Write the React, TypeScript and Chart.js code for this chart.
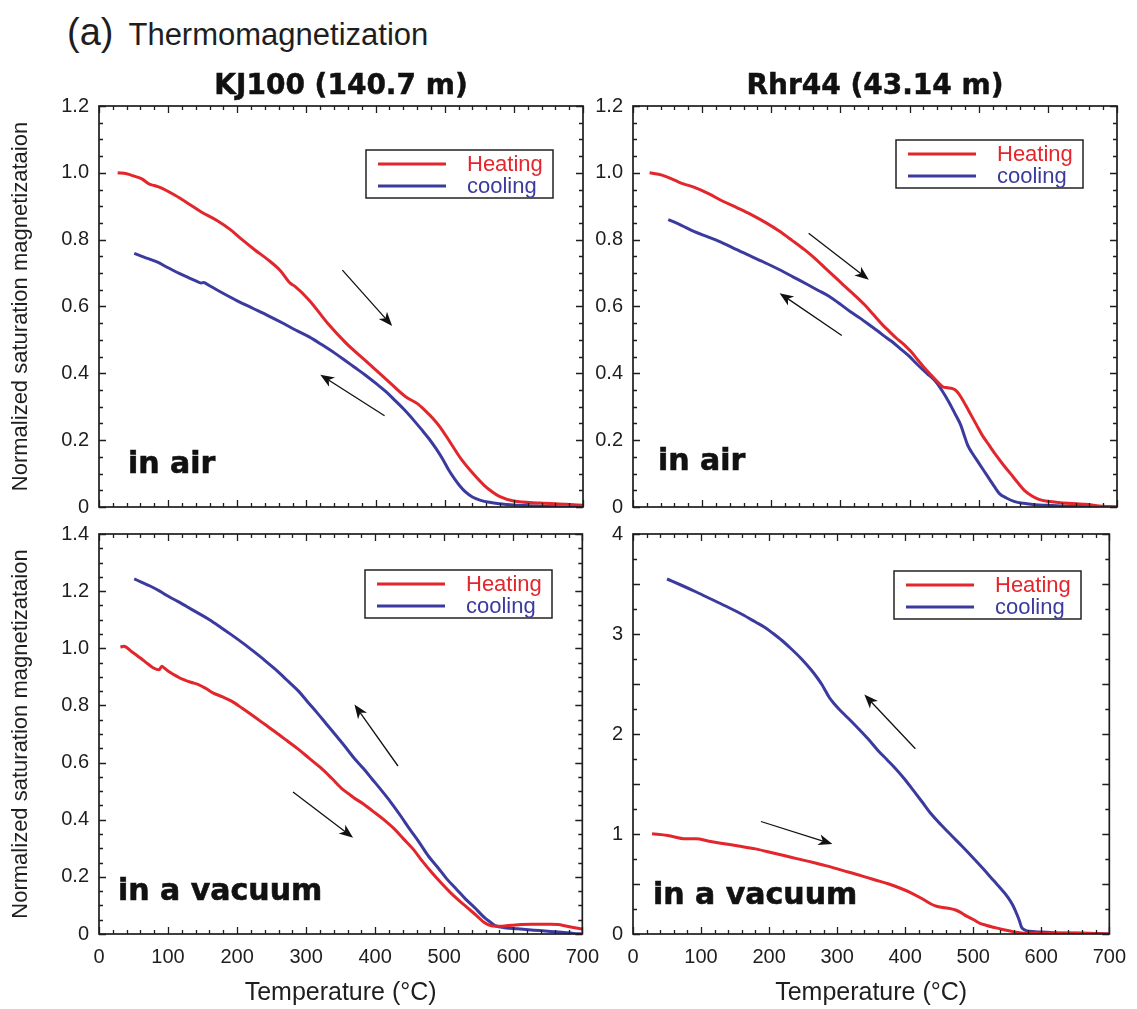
import React, { useEffect, useRef } from "react";
import { Chart, registerables } from "chart.js";

Chart.register(...registerables);

const RED = "#e2262b";
const BLUE = "#3b3b9f";
const INK = "#1e1e1e";

// ---------- data: KJ100 (140.7 m), in air ----------
const kjAirHeatT = [27, 40, 51, 62, 73, 80, 89, 110, 130, 148, 170, 190, 207, 225, 245, 262, 277, 283, 304, 331, 358, 385, 417, 444, 460, 471, 483, 493, 509, 525, 541, 557, 569, 579, 600, 638, 676, 700];
const kjAirHeatM = [1.0, 0.997, 0.99, 0.982, 0.966, 0.962, 0.956, 0.933, 0.907, 0.883, 0.858, 0.83, 0.8, 0.77, 0.739, 0.708, 0.669, 0.661, 0.619, 0.549, 0.489, 0.439, 0.379, 0.329, 0.31, 0.29, 0.265, 0.24, 0.19, 0.14, 0.1, 0.065, 0.045, 0.032, 0.018, 0.012, 0.008, 0.005];
const kjAirCoolT = [51, 65, 83, 100, 116, 130, 143, 148, 151, 160, 180, 200, 223, 245, 267, 285, 304, 322, 342, 355, 369, 385, 401, 415, 428, 442, 455, 466, 477, 488, 498, 506, 514, 522, 530, 540, 552, 565, 579, 600, 622, 665, 700];
const kjAirCoolM = [0.759, 0.748, 0.734, 0.716, 0.699, 0.686, 0.674, 0.67, 0.672, 0.662, 0.639, 0.617, 0.594, 0.572, 0.549, 0.529, 0.509, 0.486, 0.459, 0.44, 0.419, 0.395, 0.369, 0.345, 0.319, 0.29, 0.26, 0.233, 0.205, 0.173, 0.14, 0.11, 0.085, 0.063, 0.045, 0.03, 0.02, 0.014, 0.01, 0.006, 0.004, 0.001, 0.0];

// ---------- data: Rhr44 (43.14 m), in air ----------
const rhAirHeatT = [24, 42, 60, 73, 88, 110, 130, 150, 171, 192, 212, 230, 248, 263, 278, 291, 304, 320, 335, 348, 361, 371, 381, 392, 402, 412, 422, 430, 438, 448, 455, 461, 468, 474, 481, 489, 497, 505, 515, 525, 536, 546, 556, 566, 577, 587, 600, 618, 654, 679, 700];
const rhAirHeatM = [1.0, 0.993, 0.978, 0.967, 0.957, 0.937, 0.915, 0.896, 0.875, 0.851, 0.825, 0.798, 0.77, 0.744, 0.715, 0.69, 0.665, 0.635, 0.605, 0.575, 0.545, 0.525, 0.505, 0.486, 0.465, 0.44, 0.415, 0.397, 0.38, 0.36, 0.357, 0.355, 0.347, 0.33, 0.305, 0.275, 0.245, 0.215, 0.185, 0.155, 0.125, 0.1, 0.074, 0.05, 0.033, 0.023, 0.017, 0.013, 0.008, 0.002, 0.0];
const rhAirCoolT = [51, 70, 88, 110, 130, 150, 171, 192, 212, 232, 253, 268, 284, 299, 314, 330, 345, 355, 361, 374, 386, 399, 412, 425, 438, 448, 458, 466, 474, 479, 484, 491, 499, 507, 515, 523, 530, 540, 551, 565, 582, 600, 618, 660, 700];
const rhAirCoolM = [0.86, 0.843, 0.825, 0.807, 0.79, 0.77, 0.75, 0.73, 0.71, 0.688, 0.665, 0.648, 0.63, 0.608, 0.585, 0.563, 0.54, 0.525, 0.515, 0.496, 0.475, 0.452, 0.425, 0.4, 0.375, 0.345, 0.31, 0.278, 0.245, 0.215, 0.185, 0.16, 0.135, 0.11, 0.085, 0.06, 0.04, 0.027, 0.017, 0.011, 0.007, 0.005, 0.003, 0.001, 0.0];

// ---------- data: KJ100 (140.7 m), in a vacuum ----------
const kjVacHeatT = [31, 36, 47, 55, 63, 71, 79, 87, 91, 95, 101, 109, 117, 125, 133, 144, 155, 165, 179, 192, 208, 224, 240, 256, 272, 289, 305, 321, 337, 353, 362, 369, 383, 396, 412, 428, 441, 455, 468, 482, 495, 509, 522, 536, 548, 558, 566, 574, 582, 590, 600, 611, 627, 644, 655, 665, 676, 687, 700];
const kjVacHeatM = [1.004, 1.007, 0.989, 0.975, 0.96, 0.945, 0.931, 0.925, 0.937, 0.93, 0.919, 0.907, 0.896, 0.888, 0.881, 0.873, 0.859, 0.844, 0.83, 0.815, 0.789, 0.762, 0.734, 0.706, 0.677, 0.646, 0.614, 0.582, 0.545, 0.506, 0.49, 0.477, 0.455, 0.431, 0.401, 0.367, 0.333, 0.297, 0.256, 0.215, 0.18, 0.145, 0.116, 0.087, 0.062, 0.04, 0.03, 0.027, 0.027, 0.029, 0.031, 0.033, 0.034, 0.034, 0.034, 0.033, 0.028, 0.023, 0.017];
const kjVacCoolT = [51, 62, 74, 88, 101, 114, 127, 143, 160, 176, 192, 208, 224, 240, 256, 272, 289, 302, 316, 329, 342, 356, 369, 383, 396, 410, 423, 437, 450, 464, 477, 491, 504, 518, 531, 545, 558, 566, 574, 582, 590, 606, 622, 638, 654, 670, 687, 700];
const kjVacCoolM = [1.243, 1.231, 1.218, 1.2, 1.181, 1.164, 1.146, 1.124, 1.1, 1.074, 1.047, 1.019, 0.989, 0.958, 0.925, 0.889, 0.85, 0.813, 0.774, 0.736, 0.698, 0.657, 0.617, 0.579, 0.541, 0.5, 0.46, 0.413, 0.367, 0.32, 0.273, 0.232, 0.192, 0.156, 0.122, 0.09, 0.058, 0.043, 0.029, 0.024, 0.021, 0.018, 0.015, 0.012, 0.009, 0.006, 0.002, 0.0];

// ---------- data: Rhr44 (43.14 m), in a vacuum ----------
const rhVacHeatT = [28, 51, 77, 93, 110, 129, 155, 180, 206, 232, 258, 283, 309, 335, 355, 376, 392, 407, 423, 438, 446, 453, 463, 474, 482, 489, 500, 510, 520, 530, 543, 556, 566, 576, 600, 618, 669, 700];
const rhVacHeatM = [1.002, 0.985, 0.952, 0.952, 0.93, 0.908, 0.88, 0.851, 0.81, 0.768, 0.726, 0.684, 0.634, 0.584, 0.542, 0.5, 0.46, 0.417, 0.36, 0.3, 0.278, 0.267, 0.258, 0.24, 0.214, 0.184, 0.145, 0.107, 0.085, 0.067, 0.045, 0.027, 0.015, 0.007, 0.007, 0.007, 0.005, 0.0];
const rhVacCoolT = [50, 72, 93, 116, 139, 160, 180, 194, 206, 219, 232, 247, 262, 271, 278, 283, 288, 296, 304, 316, 329, 345, 360, 373, 386, 399, 412, 425, 438, 453, 468, 484, 499, 515, 530, 541, 551, 558, 564, 568, 571, 576, 582, 600, 618, 645, 669, 700];
const rhVacCoolM = [3.55, 3.485, 3.42, 3.345, 3.27, 3.197, 3.12, 3.065, 3.005, 2.935, 2.855, 2.755, 2.64, 2.56, 2.49, 2.43, 2.37, 2.3, 2.24, 2.16, 2.07, 1.955, 1.836, 1.745, 1.653, 1.55, 1.436, 1.32, 1.202, 1.09, 0.985, 0.875, 0.768, 0.65, 0.534, 0.45, 0.367, 0.29, 0.2, 0.13, 0.067, 0.04, 0.027, 0.02, 0.013, 0.01, 0.007, 0.0];

// ---------- tick labels ----------
const xTickLabels = [0, 100, 200, 300, 400, 500, 600, 700];
const airYTickLabels = [0, 0.2, 0.4, 0.6, 0.8, 1.0, 1.2];
const kjVacYTickLabels = [0, 0.2, 0.4, 0.6, 0.8, 1.0, 1.2, 1.4];
const rhVacYTickLabels = [0, 1, 2, 3, 4];

const SERIES_NAMES = ["Heating", "cooling"];
const Y_TITLE = "Normalized saturation magnetizataion";
const X_TITLE = "Temperature (°C)";

type Arrow = { from: [number, number]; to: [number, number] };

type PanelProps = {
  left: number;
  top: number;
  width: number;
  height: number;
  padTop: number;
  padRight: number;
  yWidth: number;
  xHeight: number;
  title: string;
  env: string;
  envDx: number;
  envDy: number;
  heatT: number[];
  heatM: number[];
  coolT: number[];
  coolM: number[];
  yLabels: number[];
  yMinor: number;
  yMid: number;
  yDecimals: number;
  legendDx: number;
  legendDy: number;
  arrows: Arrow[];
  yTitle: boolean;
  xLabels: boolean;
};

const LABEL_FONT = '"Liberation Sans", Arial, Helvetica, sans-serif';
const BOLD_FONT = '"DejaVu Sans", "Liberation Sans", sans-serif';

function near(v: number, step: number) {
  return Math.abs(v / step - Math.round(v / step)) < 1e-6;
}

function drawArrow(ctx: CanvasRenderingContext2D, x1: number, y1: number, x2: number, y2: number) {
  const ang = Math.atan2(y2 - y1, x2 - x1);
  const L = 14;
  const W = 5.5;
  ctx.beginPath();
  ctx.moveTo(x1, y1);
  ctx.lineTo(x2 - Math.cos(ang) * L * 0.7, y2 - Math.sin(ang) * L * 0.7);
  ctx.lineWidth = 1.3;
  ctx.strokeStyle = "#111";
  ctx.stroke();
  const bx = x2 - Math.cos(ang) * L;
  const by = y2 - Math.sin(ang) * L;
  const nx = -Math.sin(ang);
  const ny = Math.cos(ang);
  const mx = x2 - Math.cos(ang) * L * 0.72;
  const my = y2 - Math.sin(ang) * L * 0.72;
  ctx.beginPath();
  ctx.moveTo(x2, y2);
  ctx.lineTo(bx + nx * W, by + ny * W);
  ctx.lineTo(mx, my);
  ctx.lineTo(bx - nx * W, by - ny * W);
  ctx.closePath();
  ctx.fillStyle = "#111";
  ctx.fill();
}

function heavyText(ctx: CanvasRenderingContext2D, text: string, x: number, y: number, w: number) {
  ctx.fillText(text, x, y);
  ctx.lineWidth = w;
  ctx.lineJoin = "miter";
  ctx.strokeStyle = ctx.fillStyle as string;
  ctx.strokeText(text, x, y);
}

function Panel(p: PanelProps) {
  const ref = useRef<HTMLCanvasElement | null>(null);

  useEffect(() => {
    const canvas = ref.current;
    if (!canvas) return;
    const yMax = p.yLabels[p.yLabels.length - 1];
    const yStep = p.yLabels[1] - p.yLabels[0];
    const xStep = xTickLabels[1] - xTickLabels[0];
    const xMax = xTickLabels[xTickLabels.length - 1];

    const decor = {
      id: "decor",
      afterDraw(chart: any) {
        const { ctx, chartArea: a, scales } = chart;
        const xs = scales.x;
        const ys = scales.y;
        ctx.save();
        // inward ticks on all four sides
        ctx.strokeStyle = INK;
        ctx.lineWidth = 1.3;
        ctx.beginPath();
        for (let i = 0; ; i++) {
          const v = i * 20;
          if (v > xMax + 1e-9) break;
          const px = Math.round(xs.getPixelForValue(v)) + 0.5;
          const len = near(v, xStep) ? 7 : 4;
          ctx.moveTo(px, a.bottom);
          ctx.lineTo(px, a.bottom - len);
          ctx.moveTo(px, a.top);
          ctx.lineTo(px, a.top + len);
        }
        for (let i = 0; ; i++) {
          const v = i * p.yMinor;
          if (v > yMax + 1e-9) break;
          const py = Math.round(ys.getPixelForValue(v)) + 0.5;
          const len = near(v, p.yMid) ? 7 : 4;
          ctx.moveTo(a.left, py);
          ctx.lineTo(a.left + len, py);
          ctx.moveTo(a.right, py);
          ctx.lineTo(a.right - len, py);
        }
        ctx.stroke();
        // frame
        ctx.lineWidth = 1.7;
        ctx.strokeRect(a.left, a.top, a.right - a.left, a.bottom - a.top);

        // legend
        const lx = a.left + p.legendDx;
        const ly = a.top + p.legendDy;
        ctx.fillStyle = "#fff";
        ctx.fillRect(lx, ly, 187, 48);
        ctx.lineWidth = 1.5;
        ctx.strokeStyle = "#222";
        ctx.strokeRect(lx, ly, 187, 48);
        const colors = [RED, BLUE];
        const rows = [14, 36];
        ctx.font = `22px ${LABEL_FONT}`;
        ctx.textBaseline = "middle";
        ctx.textAlign = "left";
        for (let k = 0; k < 2; k++) {
          ctx.beginPath();
          ctx.moveTo(lx + 12, ly + rows[k]);
          ctx.lineTo(lx + 80, ly + rows[k]);
          ctx.strokeStyle = colors[k];
          ctx.lineWidth = 3;
          ctx.stroke();
          ctx.fillStyle = colors[k];
          ctx.fillText(SERIES_NAMES[k], lx + 101, ly + rows[k] + 1);
        }

        // environment label
        ctx.fillStyle = "#111";
        ctx.font = `bold 30px ${BOLD_FONT}`;
        ctx.textBaseline = "alphabetic";
        heavyText(ctx, p.env, a.left + p.envDx, a.bottom - p.envDy, 0.6);

        // arrows (data coordinates)
        for (const ar of p.arrows) {
          drawArrow(
            ctx,
            xs.getPixelForValue(ar.from[0]),
            ys.getPixelForValue(ar.from[1]),
            xs.getPixelForValue(ar.to[0]),
            ys.getPixelForValue(ar.to[1])
          );
        }

        // panel title
        if (p.title) {
          ctx.fillStyle = "#111";
          ctx.font = `bold 28px ${BOLD_FONT}`;
          ctx.textAlign = "center";
          ctx.textBaseline = "middle";
          heavyText(ctx, p.title, (a.left + a.right) / 2, a.top - 19, 0.5);
        }
        ctx.restore();
      },
    };

    const chart = new Chart(canvas, {
      type: "line",
      data: {
        datasets: [
          {
            label: SERIES_NAMES[0],
            data: p.heatT.map((t, i) => ({ x: t, y: p.heatM[i] })),
            borderColor: RED,
            borderWidth: 3,
            pointRadius: 0,
            cubicInterpolationMode: "monotone",
            fill: false,
          },
          {
            label: SERIES_NAMES[1],
            data: p.coolT.map((t, i) => ({ x: t, y: p.coolM[i] })),
            borderColor: BLUE,
            borderWidth: 3,
            pointRadius: 0,
            cubicInterpolationMode: "monotone",
            fill: false,
          },
        ],
      },
      options: {
        animation: false,
        responsive: false,
        devicePixelRatio: 1,
        layout: { padding: { left: 0, top: p.padTop, right: p.padRight, bottom: 0 } },
        plugins: {
          legend: { display: false },
          title: { display: false },
          tooltip: { enabled: false },
        },
        scales: {
          x: {
            type: "linear",
            min: 0,
            max: xMax,
            grid: { display: false, drawTicks: false },
            border: { display: false },
            ticks: {
              display: p.xLabels,
              stepSize: xStep,
              padding: 11,
              color: INK,
              maxRotation: 0,
              autoSkip: false,
              font: { family: LABEL_FONT, size: 20 },
              callback: (v: any) => String(v),
            },
            title: {
              display: p.xLabels,
              text: X_TITLE,
              color: INK,
              font: { family: LABEL_FONT, size: 25 },
              padding: { top: 0, bottom: 1 },
            },
            afterFit: (s: any) => {
              s.height = p.xHeight;
            },
          },
          y: {
            type: "linear",
            min: 0,
            max: yMax,
            grid: { display: false, drawTicks: false },
            border: { display: false },
            ticks: {
              stepSize: yStep,
              padding: 10,
              color: INK,
              autoSkip: false,
              font: { family: LABEL_FONT, size: 20 },
              callback: (v: any) => (Math.abs(v) < 1e-9 ? "0" : Number(v).toFixed(p.yDecimals)),
            },
            title: {
              display: p.yTitle,
              text: Y_TITLE,
              color: INK,
              font: { family: LABEL_FONT, size: 22 },
              padding: { top: 8, bottom: 0 },
            },
            afterFit: (s: any) => {
              s.width = p.yWidth;
            },
          },
        },
      },
      plugins: [decor],
    } as any);

    return () => {
      chart.destroy();
    };
  }, []);

  return (
    <canvas
      ref={ref}
      width={p.width}
      height={p.height}
      style={{ position: "absolute", left: p.left, top: p.top, width: p.width, height: p.height }}
    />
  );
}

export default function App() {
  return (
    <div
      style={{
        position: "absolute",
        left: 0,
        top: 0,
        width: 1137,
        height: 1009,
        background: "#fff",
        overflow: "hidden",
      }}
    >
      <div
        style={{
          position: "absolute",
          left: 67,
          top: 13,
          fontFamily: LABEL_FONT,
          color: INK,
          whiteSpace: "nowrap",
          lineHeight: 1,
        }}
      >
        <span style={{ fontSize: 38 }}>(a)</span>
        <span style={{ fontSize: 31, marginLeft: 15 }}>Thermomagnetization</span>
      </div>

      <Panel
        left={0}
        top={60}
        width={610}
        height={469}
        padTop={46}
        padRight={27}
        yWidth={99}
        xHeight={22}
        title="KJ100 (140.7 m)"
        env="in air"
        envDx={29}
        envDy={34}
        heatT={kjAirHeatT}
        heatM={kjAirHeatM}
        coolT={kjAirCoolT}
        coolM={kjAirCoolM}
        yLabels={airYTickLabels}
        yMinor={0.05}
        yMid={0.2}
        yDecimals={1}
        legendDx={267}
        legendDy={44}
        arrows={[
          { from: [352, 0.709], to: [424, 0.542] },
          { from: [413, 0.273], to: [320, 0.396] },
        ]}
        yTitle={true}
        xLabels={false}
      />
      <Panel
        left={590}
        top={60}
        width={547}
        height={469}
        padTop={46}
        padRight={20}
        yWidth={43}
        xHeight={22}
        title="Rhr44 (43.14 m)"
        env="in air"
        envDx={25}
        envDy={37}
        heatT={rhAirHeatT}
        heatM={rhAirHeatM}
        coolT={rhAirCoolT}
        coolM={rhAirCoolM}
        yLabels={airYTickLabels}
        yMinor={0.05}
        yMid={0.2}
        yDecimals={1}
        legendDx={263}
        legendDy={34}
        arrows={[
          { from: [254, 0.819], to: [341, 0.68] },
          { from: [302, 0.513], to: [212, 0.64] },
        ]}
        yTitle={false}
        xLabels={false}
      />
      <Panel
        left={0}
        top={512}
        width={610}
        height={497}
        padTop={22}
        padRight={27}
        yWidth={99}
        xHeight={75}
        title=""
        env="in a vacuum"
        envDx={19}
        envDy={34}
        heatT={kjVacHeatT}
        heatM={kjVacHeatM}
        coolT={kjVacCoolT}
        coolM={kjVacCoolM}
        yLabels={kjVacYTickLabels}
        yMinor={0.05}
        yMid={0.2}
        yDecimals={1}
        legendDx={266}
        legendDy={36}
        arrows={[
          { from: [433, 0.588], to: [370, 0.803] },
          { from: [281, 0.497], to: [368, 0.337] },
        ]}
        yTitle={true}
        xLabels={true}
      />
      <Panel
        left={590}
        top={512}
        width={547}
        height={497}
        padTop={22}
        padRight={20}
        yWidth={43}
        xHeight={75}
        title=""
        env="in a vacuum"
        envDx={20}
        envDy={30}
        heatT={rhVacHeatT}
        heatM={rhVacHeatM}
        coolT={rhVacCoolT}
        coolM={rhVacCoolM}
        yLabels={rhVacYTickLabels}
        yMinor={0.25}
        yMid={0.5}
        yDecimals={0}
        legendDx={261}
        legendDy={37}
        arrows={[
          { from: [415, 1.853], to: [340, 2.394] },
          { from: [188, 1.125], to: [293, 0.9] },
        ]}
        yTitle={false}
        xLabels={true}
      />
    </div>
  );
}
